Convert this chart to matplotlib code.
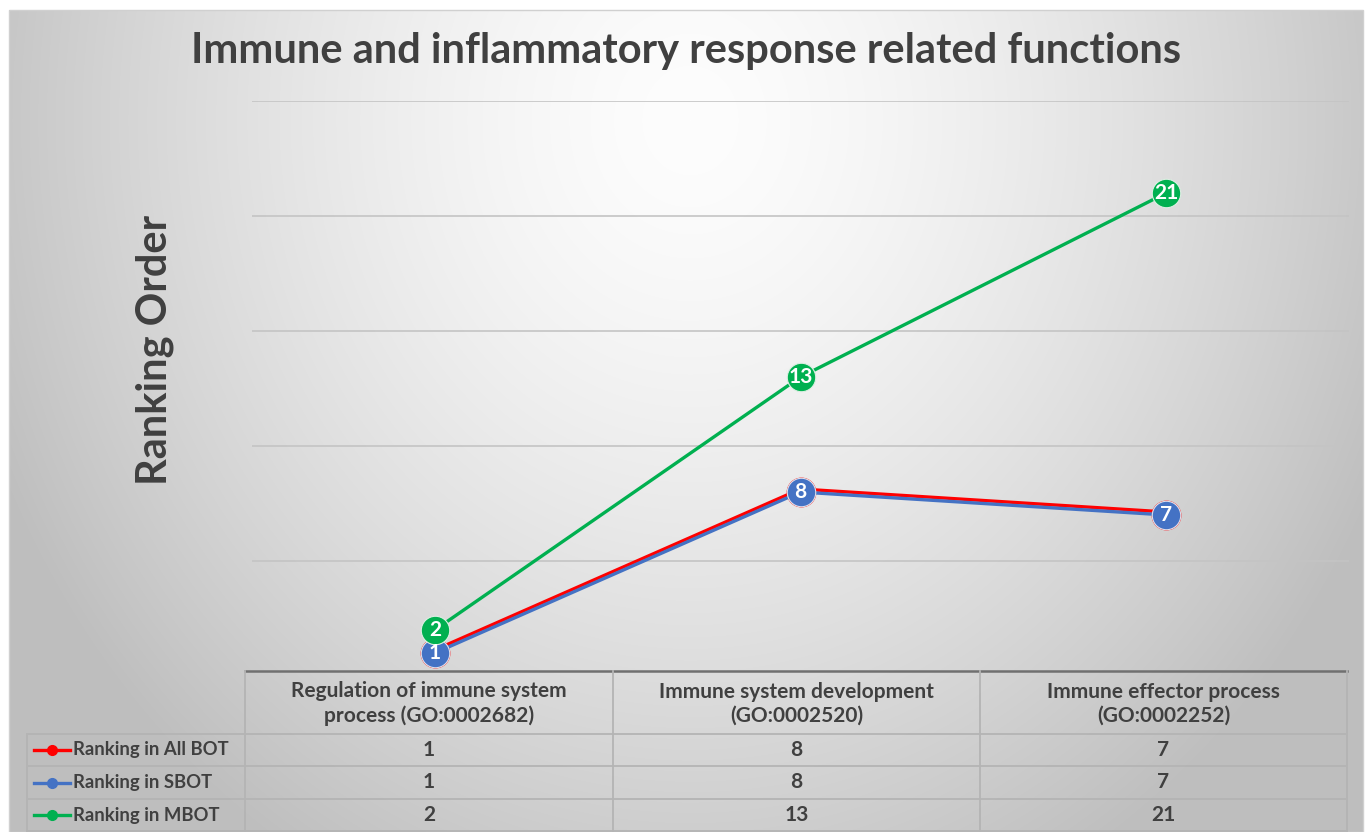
import numpy as np
import matplotlib
matplotlib.use("Agg")
from matplotlib import pyplot as plt
import matplotlib.transforms as mtransforms

plt.rcParams['font.family'] = ['Lato', 'DejaVu Sans']

W, H = 1365, 832

title = "Immune and inflammatory response related functions"
ylabel = "Ranking Order"
categories = ["Regulation of immune system\nprocess (GO:0002682)",
              "Immune system development\n(GO:0002520)",
              "Immune effector process\n(GO:0002252)"]
series_names = ["Ranking in All BOT", "Ranking in SBOT", "Ranking in MBOT"]
all_bot = [1, 8, 7]
sbot = [1, 8, 7]
mbot = [2, 13, 21]
colors = ["#FF0000", "#4472C4", "#00B050"]
yticks = [5, 10, 15, 20, 25]

fig = plt.figure(figsize=(W / 100, H / 100), dpi=100)
fig.patch.set_facecolor("white")

def fbox(x0, y0, x1, y1):
    # pixel box (top-left origin) -> figure fraction rect
    return [x0 / W, 1 - y1 / H, (x1 - x0) / W, (y1 - y0) / H]

# background panel with a soft radial gradient
bg = fig.add_axes(fbox(9, 10, 1363, 832), zorder=0)
yy, xx = np.mgrid[10:832, 9:1363]
r = np.sqrt(((xx - 690) / 720.0) ** 2 + ((yy - 120) / 820.0) ** 2)
shade = np.clip(253 - 58 * r ** 1.5, 190, 253) / 255.0
bg.imshow(np.dstack([shade, shade, shade]), aspect="auto", interpolation="bilinear")
bg.set_axis_off()
fig.add_artist(plt.Rectangle((9 / W, 0), 1354 / W, 1 - 10 / H, transform=fig.transFigure,
                             fill=False, edgecolor="#d0d0d0", lw=1, zorder=1))

# overlay in pixel coordinates for title, label and data table
ov = fig.add_axes([0, 0, 1, 1], zorder=1)
ov.set_xlim(0, W)
ov.set_ylim(H, 0)
ov.set_axis_off()
ov.patch.set_alpha(0)

ov.text(686, 51, title, ha="center", va="center", fontsize=30, fontweight="bold", color="#404040")
ov.text(155, 350, ylabel, ha="center", va="center", rotation=90, fontsize=30,
        fontweight="bold", color="#404040")

# plotting area
ax = fig.add_axes(fbox(252, 101, 1349, 676), zorder=2)
ax.patch.set_alpha(0)
x = np.arange(len(categories))
ax.set_xlim(-0.5, len(categories) - 0.5)
ax.set_ylim(0, 25)
ax.set_yticks(yticks)
ax.set_xticks([])
ax.tick_params(left=False, labelleft=False)
ax.grid(axis="y", color="#c4c4c4", lw=1.2)
for s in ax.spines.values():
    s.set_visible(False)

lw = 2.4
ms = 20.5
# red series shares values with blue; nudge it up a few pixels so it stays visible
red_tr = mtransforms.offset_copy(ax.transData, fig=fig, x=0, y=3, units="dots")
ax.plot(x, all_bot, color=colors[0], lw=lw, transform=red_tr, zorder=3)
ax.plot(x, all_bot, "o", color=colors[0], ms=ms, zorder=3)
ax.plot(x, sbot, color=colors[1], lw=lw, marker="o", ms=ms, mec="#dde3ef", mew=0.8, zorder=4)
ax.plot(x, mbot, color=colors[2], lw=lw, marker="o", ms=ms, mec="#ddefe3", mew=0.8, zorder=5)
for xi, v in zip(x, sbot):
    ax.text(xi, v, str(v), ha="center", va="center", color="white", fontsize=15,
            fontweight="bold", zorder=6)
for xi, v in zip(x, mbot):
    ax.text(xi, v, str(v), ha="center", va="center", color="white", fontsize=15,
            fontweight="bold", zorder=6)

# data table below the chart
col_edges = [245, 613, 980, 1347]
row_edges = [671, 734, 766, 799, 831]
label_left = 27
grid_c = "#b4b4b4"
txt_c = "#404040"
ov.plot([col_edges[0], col_edges[-1]], [row_edges[0], row_edges[0]], color="#707070", lw=1.8)
for yv in row_edges[1:]:
    ov.plot([label_left, col_edges[-1]], [yv, yv], color=grid_c, lw=1.3)
for xv in col_edges:
    ov.plot([xv, xv], [row_edges[0], row_edges[-1]], color=grid_c, lw=1.3)
ov.plot([label_left, label_left], [row_edges[1], row_edges[-1]], color=grid_c, lw=1.3)

for j, cat in enumerate(categories):
    cx = (col_edges[j] + col_edges[j + 1]) / 2
    ov.text(cx, (row_edges[0] + row_edges[1]) / 2 + 1, cat, ha="center", va="center",
            fontsize=15, fontweight="bold", color=txt_c, linespacing=1.25)

for i, (name, vals) in enumerate(zip(series_names, [all_bot, sbot, mbot])):
    cy = (row_edges[i + 1] + row_edges[i + 2]) / 2
    ov.plot([34, 70], [cy, cy], color=colors[i], lw=2.4)
    ov.plot([52], [cy], "o", color=colors[i], ms=7)
    ov.text(73, cy, name, ha="left", va="center", fontsize=13.3, fontweight="bold", color=txt_c)
    for j, v in enumerate(vals):
        cx = (col_edges[j] + col_edges[j + 1]) / 2
        ov.text(cx, cy, str(v), ha="center", va="center", fontsize=15,
                fontweight="bold", color=txt_c)

fig.savefig("out.png", dpi=100, facecolor="white")
